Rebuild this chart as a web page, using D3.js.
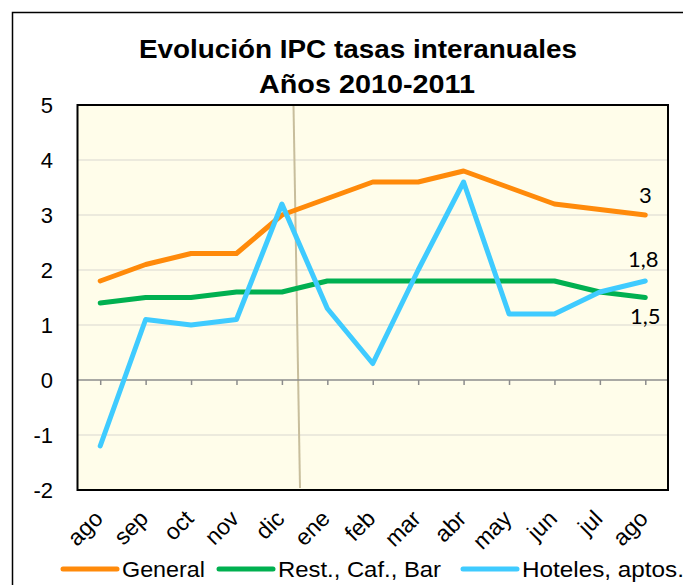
<!DOCTYPE html>
<html><head><meta charset="utf-8">
<script src="https://cdn.jsdelivr.net/npm/d3@7"></script>
<style>body{margin:0;background:#fff}svg{display:block}</style>
</head><body>
<script>
const months = ["ago","sep","oct","nov","dic","ene","feb","mar","abr","may","jun","jul","ago"];
const general = [1.8,2.1,2.3,2.3,3.0,3.3,3.6,3.6,3.8,3.5,3.2,3.1,3.0];
const restCafBar = [1.4,1.5,1.5,1.6,1.6,1.8,1.8,1.8,1.8,1.8,1.8,1.6,1.5];
const hoteles = [-1.2,1.1,1.0,1.1,3.2,1.3,0.3,2.0,3.6,1.2,1.2,1.6,1.8];
const yTicks = [-2,-1,0,1,2,3,4,5];
const seriesNames = ["General","Rest., Caf., Bar","Hoteles, aptos."];
const endLabels = ["3","1,5","1,8"];
const colors = ["#FF8A0A","#00B050","#3FCBFF"];

const W=683,H=585;
const svg=d3.select("body").append("svg").attr("width",W).attr("height",H);
// outer frame
svg.append("path").attr("d","M12.5,"+H+" V12.5 H"+W).attr("fill","none").attr("stroke","#000").attr("stroke-width",1.5);

const pl=77.5,pr=668,pt=105,pb=490;
const x=d3.scalePoint().domain(d3.range(months.length)).range([pl,pr]).padding(0.5);
const y=d3.scaleLinear().domain([-2,5]).range([pb,pt]);

svg.append("rect").attr("x",pl).attr("y",pt).attr("width",pr-pl).attr("height",pb-pt).attr("fill","#FFFDEA");
// gridlines
svg.append("g").selectAll("line").data(yTicks.filter(d=>d!==0&&d!==5&&d!==-2)).join("line")
 .attr("x1",pl).attr("x2",pr).attr("y1",d=>y(d)).attr("y2",d=>y(d)).attr("stroke","#E6E3D8").attr("stroke-width",1.5);
// vertical separator
svg.append("line").attr("x1",293.5).attr("y1",pt).attr("x2",300).attr("y2",pb-2).attr("stroke","#C8BE9C").attr("stroke-width",2);
// x axis at 0
const xa=svg.append("g").attr("transform",`translate(0,${y(0)})`).call(d3.axisBottom(x).tickSize(5).tickSizeOuter(0).tickFormat(""));
xa.select(".domain").attr("d",`M${pl},0H${pr}`).attr("stroke","#8C8C8C").attr("stroke-width",1.5);
xa.selectAll(".tick line").attr("stroke","#8C8C8C").attr("stroke-width",1.5);

// lines
const line=d3.line().x((d,i)=>x(i)).y(d=>y(d));
[general,restCafBar,hoteles].forEach((s,k)=>{
  svg.append("path").datum(s).attr("d",line).attr("fill","none").attr("stroke",colors[k])
   .attr("stroke-width",5).attr("stroke-linecap","round").attr("stroke-linejoin","round");
});
// plot border
svg.append("rect").attr("x",pl).attr("y",pt).attr("width",pr-pl).attr("height",pb-pt).attr("fill","none").attr("stroke","#000").attr("stroke-width",2);

const AR="'Liberation Sans',Arial,sans-serif";
// y labels
svg.append("g").selectAll("text").data(yTicks).join("text")
 .attr("x",53).attr("y",d=>y(d)+8).attr("text-anchor","end")
 .style("font-family",AR).style("font-size","22px").text(d=>d);
// x labels
svg.append("g").selectAll("text").data(months).join("text")
 .attr("transform",(d,i)=>`translate(${x(i)+4},${520}) rotate(-45)`).attr("text-anchor","end")
 .style("font-family",AR).style("font-size","23px").text(d=>d);

// title
const tt=svg.append("g").style("font-family",AR).style("font-size","26px").style("font-weight","bold");
tt.append("text").attr("x",139).attr("y",58).attr("textLength",438).attr("lengthAdjust","spacingAndGlyphs").text("Evolución IPC tasas interanuales");
tt.append("text").attr("x",259).attr("y",93).attr("textLength",216).attr("lengthAdjust","spacingAndGlyphs").text("Años 2010-2011");

// end labels
const last=months.length-1;
const lab=svg.append("g").style("font-family","Lato,'Open Sans',sans-serif").style("font-size","22px").attr("text-anchor","middle");
lab.append("text").attr("x",x(last)).attr("y",y(general[last])-12).text(endLabels[0]);
lab.append("text").attr("x",x(last)).attr("y",y(restCafBar[last])+26).text(endLabels[1]);
lab.append("text").attr("x",x(last)-2).attr("y",y(hoteles[last])-14).text(endLabels[2]);

// legend
const lx=[63,219,463];
const lw=[83,163,162];
const lg=svg.append("g");
seriesNames.forEach((n,k)=>{
  lg.append("line").attr("x1",lx[k]).attr("x2",lx[k]+54).attr("y1",569).attr("y2",569).attr("stroke",colors[k]).attr("stroke-width",5).attr("stroke-linecap","round");
  lg.append("text").attr("x",lx[k]+59).attr("y",577).attr("textLength",lw[k]).attr("lengthAdjust","spacingAndGlyphs")
   .style("font-family",AR).style("font-size","22px").text(n);
});
</script>
</body></html>
